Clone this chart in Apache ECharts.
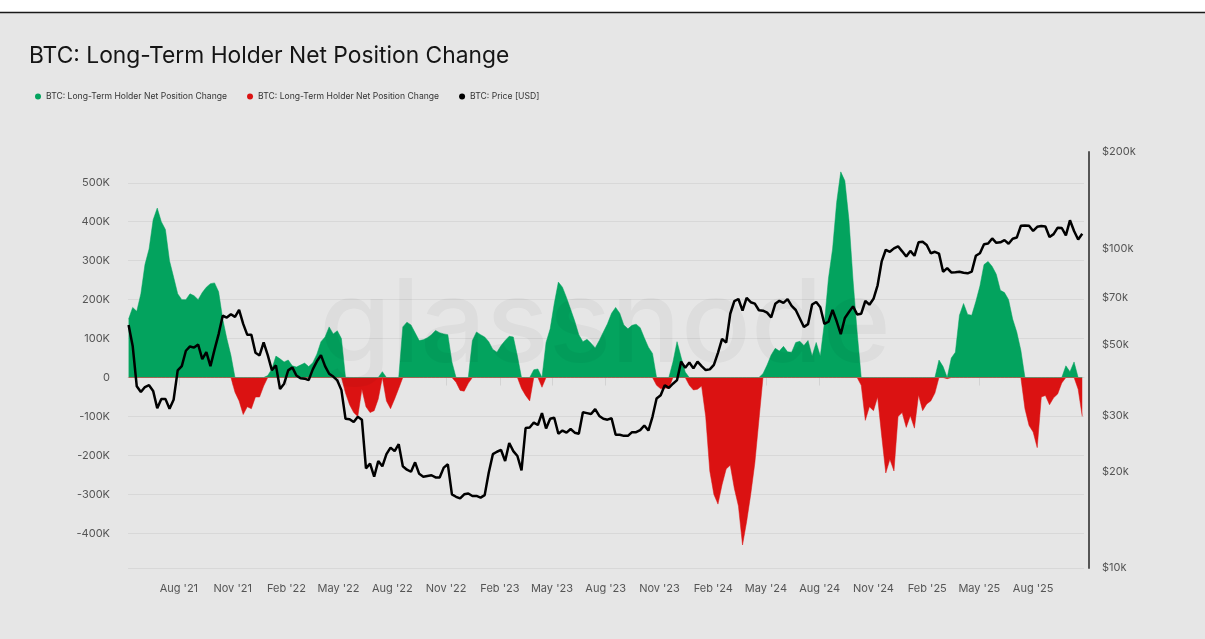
<!DOCTYPE html>
<html lang="en">
<head>
<meta charset="UTF-8">
<title>BTC: Long-Term Holder Net Position Change</title>
<script src="https://cdn.jsdelivr.net/npm/echarts@6/dist/echarts.min.js"></script>
<style>
    html, body { margin: 0; padding: 0; background: #fff; }
    #main { width: 1205px; height: 639px; }
</style>
</head>
<body>
<div id="main"></div>
<script>
    // weekly samples, first one on 2021-05-07
    var startDate = [2021, 4, 7];

    // LTH net position change, thousands of BTC
    var netChangeK = [
        150, 180, 170, 215, 290, 330, 405, 435, 400, 380,
        300, 258, 215, 200, 200, 215, 210, 200, 218, 232,
        241, 243, 220, 150, 100, 57, -38, -60, -95, -75,
        -80, -50, -50, -22, 5, 22, 55, 48, 40, 45,
        30, 27, 32, 37, 28, 38, 60, 92, 104, 130,
        112, 120, 100, -40, -70, -90, -100, -30, -75, -90,
        -85, -55, 15, -60, -80, -55, -28, 130, 142, 135,
        115, 95, 97, 102, 110, 121, 115, 112, 110,
        40, -12, -33, -35, -15, 95, 117, 110, 104, 92,
        72, 65, 82, 95, 106, 104, 55, -28, -46, -60,
        20, 22, -25, 90, 125, 190, 245, 232, 205, 175,
        145, 110, 92, 98, 88, 76, 95, 117, 138,
        165, 180, 165, 135, 125, 134, 137, 128, 102, 78,
        62, -20, -29, -27, -28, 40, 92, 52, 14, -20,
        -32, -30, -22, -100, -240, -300, -325, -275, -235, -225,
        -285, -330, -430, -370, -300, -220, -110, 10, 32,
        58, 75, 68, 80, 66, 65, 90, 93, 82, 95,
        55, 90, 55, 140, 255, 330, 450, 528, 505, 405,
        250, 117, -20, -110, -75, -85, -50, -150, -245, -210,
        -240, -100, -90, -128, -98, -130, -45, -85, -68,
        -60, -40, 45, 28, -3, 50, 65, 160, 190, 162,
        160, 195, 235, 290, 298, 285, 265, 224, 218, 200,
        150, 117, 70, -80, -123, -140, -180, -50, -46, -70,
        -52, -42, -14, 30, 15, 40, -30, -100
    ];

    // BTC price, thousands of USD
    var priceK = [
        57.5, 49.5, 37, 35.5, 36.8, 37.3, 35.8, 31.6, 33.8, 33.8,
        31.5, 33.6, 41.5, 42.8, 47.8, 49.3, 48.9, 50, 45, 47.3,
        42.8, 48.2, 53.9, 61.5, 60.7, 62.2, 61, 64.2, 58, 53.6,
        53.6, 47.1, 46.2, 50.8, 46.3, 41.6, 43, 36.3, 37.7, 41.5,
        42.4, 40, 39.2, 39.1, 38.7, 41.8, 44.3, 46.3, 42.8, 40.5,
        39.7, 38.6, 36, 29.3, 29.2, 28.6, 29.7, 29.1, 20.5, 21.2,
        19.3, 21.6, 20.8, 22.7, 23.8, 23.2, 24.4, 20.8, 20.3, 20,
        21.4, 19.7, 19.3, 19.4, 19.5, 19.2, 19.2, 20.6, 21.1, 17,
        16.7, 16.5, 17, 17.1, 16.8, 16.8, 16.6, 16.9, 19.9, 22.7,
        23.1, 23.4, 21.6, 24.6, 23.2, 22.4, 20.2, 27.4, 27.5, 28.5,
        28, 30.5, 27.3, 29.3, 29.5, 26.3, 26.9, 26.5, 27.2, 26.5,
        26.3, 30.7, 30.5, 30.3, 31.4, 29.9, 29.3, 29.1, 29.4, 26.1,
        26.1, 25.9, 25.9, 26.6, 26.6, 27, 27.9, 26.9, 29.7, 33.9,
        34.7, 37.3, 36.6, 37.7, 38.7, 44.2, 42.3, 43.9, 42.1, 44.2,
        42.8, 41.6, 41.8, 43.2, 47.1, 52.1, 50.7, 62.4, 68.3, 69.4,
        63.8, 69.9, 67.8, 67.1, 64, 63.8, 62.9, 60.8, 67, 68.5,
        67.5, 69.3, 66, 64.1, 60.3, 56.7, 57.9, 66.7, 67.9, 65.4,
        58, 58.9, 64.1, 59.1, 53.9, 60.5, 63.2, 65.8, 62.1, 62.4,
        68.4, 66.6, 69.5, 76.6, 91, 98.9, 97.5, 99.9, 101.4, 97.8,
        94.2, 98.1, 94.7, 104.4, 104.8, 102.4, 96.5, 97.5, 96.2, 84.4,
        86.7, 84, 84.1, 84.4, 83.8, 83.5, 84.5, 94.7, 96.5, 103,
        103.5, 107.3, 104, 104.4, 106, 103.3, 107.1, 108, 117.5, 117.9,
        117.6, 113.3, 116.7, 117.4, 116.9, 108.4, 110.7, 116, 115.7, 109.7,
        122.3, 113.2, 106.5, 111
    ];

    var tickDates = [
        [2021, 7], [2021, 10], [2022, 1], [2022, 4], [2022, 7], [2022, 10],
        [2023, 1], [2023, 4], [2023, 7], [2023, 10], [2024, 1], [2024, 4],
        [2024, 7], [2024, 10], [2025, 1], [2025, 4], [2025, 7]
    ];
    var tickLabels = [
        "Aug '21", "Nov '21", "Feb '22", "May '22", "Aug '22", "Nov '22",
        "Feb '23", "May '23", "Aug '23", "Nov '23", "Feb '24", "May '24",
        "Aug '24", "Nov '24", "Feb '25", "May '25", "Aug '25"
    ];
    var priceTicks = [10000, 20000, 30000, 50000, 70000, 100000, 200000];

    var seriesNames = ['lthUp', 'lthDown', 'price'];
    var legendLabels = {
        lthUp: 'BTC: Long-Term Holder Net Position Change',
        lthDown: 'BTC: Long-Term Holder Net Position Change',
        price: 'BTC: Price [USD]'
    };

    var green = '#03a35e';
    var red = '#db1212';
    var font = 'Inter';

    var day = 86400000;
    var t0 = new Date(startDate[0], startDate[1], startDate[2]).getTime();
    var upData = [], downData = [], priceData = [];
    netChangeK.forEach(function (v, i) {
        var t = t0 + i * 7 * day;
        upData.push([t, v > 0 ? v * 1000 : 0]);
        downData.push([t, v < 0 ? v * 1000 : 0]);
    });
    priceK.forEach(function (v, i) {
        priceData.push([t0 + i * 7 * day, v * 1000]);
    });
    var tickTimes = tickDates.map(function (d) { return new Date(d[0], d[1], 1).getTime(); });

    var chart = echarts.init(document.getElementById('main'));
    var option = {
        animation: false,
        backgroundColor: '#e6e6e6',
        textStyle: { fontFamily: font },
        title: {
            text: 'BTC: Long-Term Holder Net Position Change',
            left: 24,
            top: 40,
            textStyle: { fontSize: 22.8, fontWeight: 'normal', color: '#151515', fontFamily: font }
        },
        legend: {
            data: seriesNames,
            left: 30,
            top: 87,
            icon: 'circle',
            itemWidth: 6,
            itemHeight: 6,
            itemGap: 20,
            formatter: function (name) { return legendLabels[name]; },
            textStyle: { fontSize: 8.6, color: '#333', fontFamily: font }
        },
        grid: { left: 128, right: 121, top: 152, bottom: 71 },
        graphic: [
            { type: 'rect', shape: { x: 0, y: 0, width: 1205, height: 12 }, style: { fill: '#fff' }, silent: true },
            { type: 'line', shape: { x1: 0, y1: 12.5, x2: 1205, y2: 12.5 }, style: { stroke: '#1a1a1a', lineWidth: 1.5 }, silent: true },
            {
                type: 'text', x: 605, y: 385, z: 100, silent: true,
                style: {
                    text: 'glassnode', fill: 'rgba(0,0,0,0.04)', font: '500 116px Inter',
                    textAlign: 'center', textVerticalAlign: 'bottom'
                }
            }
        ],
        xAxis: {
            type: 'value',
            min: new Date(2021, 4, 6).getTime(),
            max: new Date(2025, 9, 27).getTime(),
            axisLine: { lineStyle: { color: '#d3d3d3', width: 1 } },
            axisTick: { customValues: tickTimes, length: 8, lineStyle: { color: '#d3d3d3' } },
            axisLabel: {
                customValues: tickTimes,
                margin: 15,
                color: '#555',
                fontSize: 11,
                fontFamily: font,
                formatter: function (v) {
                    var k = tickTimes.indexOf(v);
                    return k >= 0 ? tickLabels[k] : '';
                }
            },
            splitLine: { show: false }
        },
        yAxis: [
            {
                type: 'value',
                position: 'left',
                min: -489000,
                max: 579000,
                minInterval: 100000,
                maxInterval: 100000,
                axisLine: { show: false },
                axisTick: { show: false },
                splitLine: { showMaxLine: false, lineStyle: { color: '#d8d8d8', width: 1 } },
                axisLabel: {
                    showMinLabel: false,
                    showMaxLabel: false,
                    margin: 18,
                    color: '#555',
                    fontSize: 11,
                    fontFamily: font,
                    formatter: function (v) { return v === 0 ? '0' : (v / 1000) + 'K'; }
                }
            },
            {
                type: 'log',
                logBase: 10,
                position: 'right',
                offset: 5,
                min: 10000,
                max: 200000,
                axisLine: { show: true, lineStyle: { color: '#555', width: 2 } },
                axisTick: { show: false },
                splitLine: { show: false },
                axisLabel: {
                    customValues: priceTicks,
                    margin: 13,
                    color: '#555',
                    fontSize: 11,
                    fontFamily: font,
                    formatter: function (v) { return '$' + Math.round(v / 1000) + 'k'; }
                }
            }
        ],
        series: [
            {
                name: 'lthUp',
                type: 'line',
                data: upData,
                showSymbol: false,
                itemStyle: { color: green },
                lineStyle: { color: green, width: 0.5 },
                areaStyle: { color: green, opacity: 1 },
                z: 2
            },
            {
                name: 'lthDown',
                type: 'line',
                data: downData,
                showSymbol: false,
                itemStyle: { color: red },
                lineStyle: { color: red, width: 0.5 },
                areaStyle: { color: red, opacity: 1 },
                z: 2
            },
            {
                name: 'price',
                type: 'line',
                yAxisIndex: 1,
                data: priceData,
                showSymbol: false,
                itemStyle: { color: '#000' },
                lineStyle: { color: '#000', width: 2.5 },
                z: 3
            }
        ]
    };
    chart.setOption(option);
</script>
</body>
</html>
